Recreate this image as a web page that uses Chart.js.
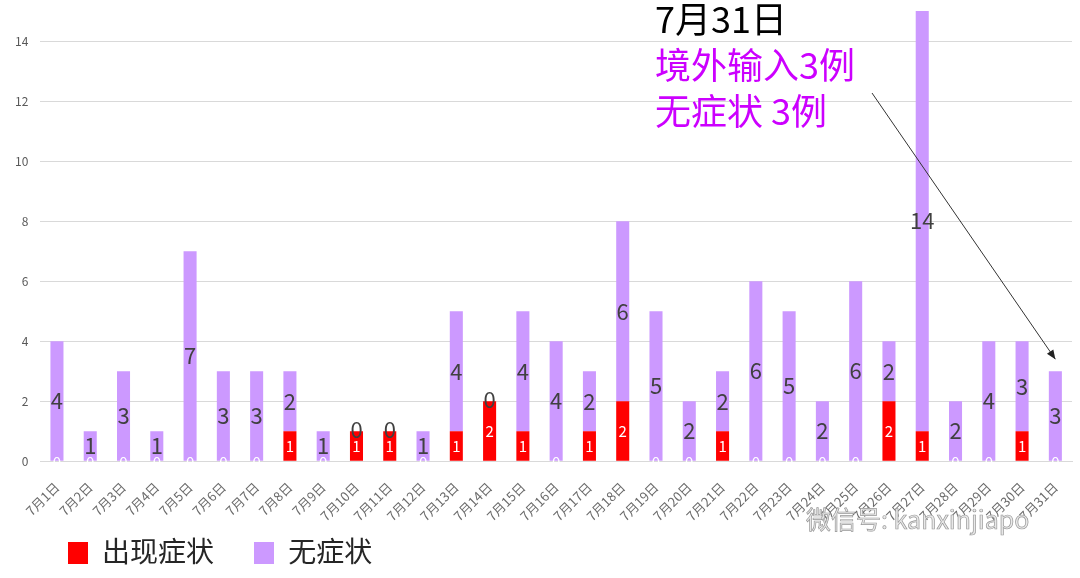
<!DOCTYPE html>
<html>
<head>
<meta charset="utf-8">
<script src="https://cdn.jsdelivr.net/npm/chart.js@4"></script>
<style>
  html, body { margin: 0; padding: 0; background: #fff; }
  #wrap { position: relative; width: 1080px; height: 578px; overflow: hidden; }
  #legend { position: absolute; left: 68px; top: 530px; font-family: "Noto Sans CJK SC", sans-serif; font-size: 28px; line-height: 40px; color: #262626; }
  #legend span.item { display: inline-block; margin-right: 34px; }
  #legend i { display: inline-block; width: 20px; height: 22px; vertical-align: -2px; margin-right: 14px; }
  #wx { position: absolute; left: 806px; top: 500px; font-family: "Noto Sans CJK SC", sans-serif; font-size: 25px; color: #e9e9e9; -webkit-text-stroke: 0.7px #999; }
</style>
</head>
<body>
<div id="wrap">
  <canvas id="c" width="1080" height="578"></canvas>
  <div id="legend">
    <span class="item"><i style="background:#ff0000"></i>出现症状</span>
    <span class="item"><i style="background:#cc99ff"></i>无症状</span>
  </div>
  <div id="wx">微信号: kanxinjiapo</div>
</div>
<script>
// July 2020 daily imported cases
const days = ['7月1日','7月2日','7月3日','7月4日','7月5日','7月6日','7月7日','7月8日','7月9日','7月10日',
  '7月11日','7月12日','7月13日','7月14日','7月15日','7月16日','7月17日','7月18日','7月19日','7月20日',
  '7月21日','7月22日','7月23日','7月24日','7月25日','7月26日','7月27日','7月28日','7月29日','7月30日','7月31日'];
const symptomatic  = [0,0,0,0,0,0,0,1,0,1,1,0,1,2,1,0,1,2,0,0,1,0,0,0,0,2,1,0,0,1,0];
const asymptomatic = [4,1,3,1,7,3,3,2,1,0,0,1,4,0,4,4,2,6,5,2,2,6,5,2,6,2,14,2,4,3,3];
const yTicks = [0,2,4,6,8,10,12,14];

const RED = '#ff0000', PURPLE = '#cc99ff';
const FONT = '"Noto Sans CJK SC", sans-serif';

// value labels + the 7/31 callout
const overlay = {
    id: 'overlay',
    afterDatasetsDraw(chart) {
        const { ctx, chartArea, scales } = chart;
        ctx.save();
        ctx.beginPath();
        ctx.rect(chartArea.left, chartArea.top, chartArea.right - chartArea.left, chartArea.bottom - chartArea.top + 1);
        ctx.clip();
        ctx.textAlign = 'center';
        ctx.textBaseline = 'middle';

        chart.getDatasetMeta(0).data.forEach((bar, i) => {
            const v = symptomatic[i];
            ctx.fillStyle = '#fff';
            ctx.font = '15px ' + FONT;
            const y = v === 0 ? bar.y + 1 : (bar.y + bar.base) / 2;
            ctx.fillText(String(v), bar.x, y);
        });
        chart.getDatasetMeta(1).data.forEach((bar, i) => {
            const v = asymptomatic[i];
            ctx.fillStyle = '#404040';
            ctx.font = '22px ' + FONT;
            const y = v === 0 ? bar.y - 2 : (bar.y + bar.base) / 2;
            ctx.fillText(String(v), bar.x, y);
        });
        ctx.restore();

        // callout text
        ctx.save();
        ctx.textAlign = 'left';
        ctx.textBaseline = 'middle';
        ctx.fillStyle = '#000';
        ctx.font = '36px ' + FONT;
        ctx.fillText('7月31日', 655, 19);
        ctx.fillStyle = '#cc00ff';
        ctx.fillText('境外输入3例', 655, 65);
        ctx.fillText('无症状 3例', 655, 111);

        // arrow to last bar
        const last = days.length - 1;
        const tx = scales.x.getPixelForValue(last);
        const ty = scales.y.getPixelForValue(symptomatic[last] + asymptomatic[last]) - 12;
        const sx = 872, sy = 93;
        ctx.strokeStyle = '#333';
        ctx.lineWidth = 1;
        ctx.beginPath();
        ctx.moveTo(sx, sy);
        ctx.lineTo(tx, ty);
        ctx.stroke();
        const a = Math.atan2(ty - sy, tx - sx);
        ctx.fillStyle = '#222';
        ctx.beginPath();
        ctx.moveTo(tx, ty);
        ctx.lineTo(tx - 10 * Math.cos(a - 0.4), ty - 10 * Math.sin(a - 0.4));
        ctx.lineTo(tx - 10 * Math.cos(a + 0.4), ty - 10 * Math.sin(a + 0.4));
        ctx.closePath();
        ctx.fill();
        ctx.restore();
    }
};

new Chart(document.getElementById('c'), {
    type: 'bar',
    data: {
        labels: days,
        datasets: [
            { label: '出现症状', data: symptomatic, backgroundColor: RED },
            { label: '无症状', data: asymptomatic, backgroundColor: PURPLE }
        ]
    },
    options: {
        responsive: false,
        animation: false,
        layout: { padding: { top: 11, right: 8, left: 3, bottom: 44 } },
        datasets: { bar: { categoryPercentage: 0.8, barPercentage: 0.49 } },
        plugins: { legend: { display: false }, tooltip: { enabled: false } },
        scales: {
            x: {
                stacked: true,
                grid: { display: false },
                border: { color: '#d9d9d9' },
                ticks: { color: '#6b6b6b', font: { family: FONT, size: 13 }, minRotation: 45, maxRotation: 45, autoSkip: false, padding: 10 }
            },
            y: {
                stacked: true,
                min: 0, max: 15,
                afterBuildTicks: s => { s.ticks = yTicks.map(v => ({ value: v })); },
                afterFit: s => { s.paddingTop = 0; s.paddingBottom = 0; },
                grid: { color: '#d9d9d9', drawTicks: false },
                border: { display: false },
                ticks: { color: '#595959', font: { family: FONT, size: 12 }, padding: 12 }
            }
        }
    },
    plugins: [overlay]
});
</script>
</body>
</html>
